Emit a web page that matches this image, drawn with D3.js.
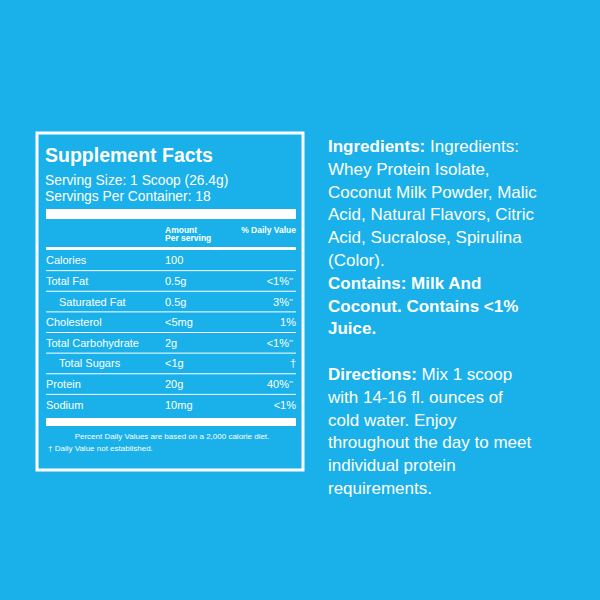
<!DOCTYPE html><html><head><meta charset="utf-8"><script src="https://cdn.jsdelivr.net/npm/d3@7"></script>
<style>body{margin:0;background:#1ab1ea}</style></head><body><svg id="c" width="600" height="600"></svg>
<script>
const nutrients=["Calories","Total Fat","Saturated Fat","Cholesterol","Total Carbohydrate","Total Sugars","Protein","Sodium"];
const indent=[false,false,true,false,false,true,false,false];
const amounts=["100","0.5g","0.5g","<5mg","2g","<1g","20g","10mg"];
const dvs=["","<1%","3%","1%","<1%","†","40%","<1%"];
const dvMark=["","**","**","","**","","**",""];
const rightLines=[
[["b","Ingredients:"],["n"," Ingredients:"]],[["n","Whey Protein Isolate,"]],[["n","Coconut Milk Powder, Malic"]],
[["n","Acid, Natural Flavors, Citric"]],[["n","Acid, Sucralose, Spirulina"]],[["n","(Color)."]],
[["b","Contains: Milk And"]],[["b","Coconut. Contains <1%"]],[["b","Juice."]],[],
[["b","Directions:"],["n"," Mix 1 scoop"]],[["n","with 14-16 fl. ounces  of"]],[["n","cold water. Enjoy"]],
[["n","throughout the day to meet"]],[["n","individual protein"]],[["n","requirements."]]];
const svg=d3.select("#c");const W="#fff";const F="Liberation Sans, Arial, sans-serif";
svg.append("rect").attr("width",600).attr("height",600).attr("fill","#1ab1ea");
svg.append("rect").attr("x",37).attr("y",133).attr("width",266).attr("height",337).attr("fill","none").attr("stroke",W).attr("stroke-width",3);
const t=(x,y,s,txt,w,a)=>svg.append("text").attr("x",x).attr("y",y).attr("font-size",s).attr("font-family",F).attr("font-weight",w||"normal").attr("fill",W).attr("text-anchor",a||"start").text(txt);
t(45,162,19.5,"Supplement Facts","bold");
t(45,185,13.8,"Serving Size: 1 Scoop (26.4g)");
t(45,201,13.8,"Servings Per Container: 18");
svg.append("rect").attr("x",46).attr("y",209).attr("width",250).attr("height",10).attr("fill",W);
t(165,233,8.5,"Amount","bold");t(165,241,8.5,"Per serving","bold");t(296,233,8.5,"% Daily Value","bold","end");
svg.append("rect").attr("x",46).attr("y",247).attr("width",250).attr("height",3).attr("fill",W);
const y=d3.scaleBand().domain(nutrients).range([250,415]);
nutrients.forEach((n,i)=>{const cy=y(n)+y.bandwidth()/2+4;
 t(indent[i]?59:46,cy,11,n);t(165,cy,11,amounts[i]);
 t(dvMark[i]?289:296,cy,11,dvs[i],"normal","end");
 if(dvMark[i])t(289,cy-3,5,dvMark[i]);
 if(i<nutrients.length-1)svg.append("line").attr("x1",46).attr("x2",296).attr("y1",y(n)+y.bandwidth()).attr("y2",y(n)+y.bandwidth()).attr("stroke",W).attr("stroke-width",1);});
svg.append("rect").attr("x",46).attr("y",418).attr("width",250).attr("height",8).attr("fill",W);
t(172,439,8,"Percent Daily Values are based on a 2,000 calorie diet.","normal","middle");
t(48,451,8,"† Daily Value not established.");
rightLines.forEach((l,i)=>{const tx=svg.append("text").attr("x",328).attr("y",152+i*22.8).attr("font-size",17).attr("font-family",F).attr("fill",W);
 l.forEach(p=>tx.append("tspan").attr("font-weight",p[0]=="b"?"bold":"normal").text(p[1]));});
</script></body></html>
